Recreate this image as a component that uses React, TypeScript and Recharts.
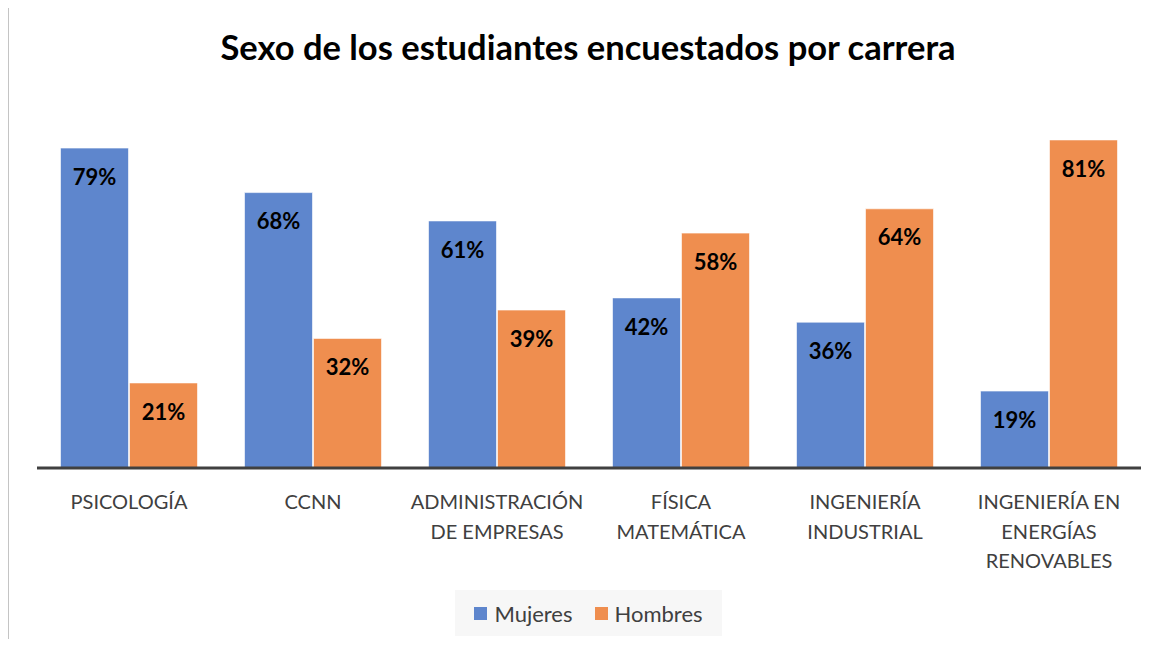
import React from "react";
import { BarChart, Bar, XAxis, YAxis, LabelList, Legend } from "recharts";

const categories = [
  "PSICOLOGÍA",
  "CCNN",
  "ADMINISTRACIÓN\nDE EMPRESAS",
  "FÍSICA\nMATEMÁTICA",
  "INGENIERÍA\nINDUSTRIAL",
  "INGENIERÍA EN\nENERGÍAS\nRENOVABLES",
];
const mujeres = [79, 68, 61, 42, 36, 19];
const hombres = [21, 32, 39, 58, 64, 81];
const seriesNames = ["Mujeres", "Hombres"];
const colors = ["#5E86CD", "#EF8E4F"];
const title = "Sexo de los estudiantes encuestados por carrera";

const data = categories.map((c, i) => ({ cat: c, m: mujeres[i], h: hombres[i] }));

const FONT = "Lato, 'Open Sans', sans-serif";

const Tick = (props: any) => {
  const { x, y, payload } = props;
  const lines = String(payload.value).split("\n");
  return (
    <g>
      {lines.map((l: string, i: number) => (
        <text
          key={i}
          x={x}
          y={y + 33 + i * 29.5}
          textAnchor="middle"
          fontSize={20}
          fill="#404040"
          fontFamily={FONT}
        >
          {l}
        </text>
      ))}
    </g>
  );
};

const LegendContent = () => (
  <div
    style={{
      position: "absolute",
      left: 455,
      top: 590,
      width: 267,
      height: 46,
      background: "#F7F7F7",
      display: "flex",
      alignItems: "center",
      justifyContent: "center",
      fontFamily: FONT,
      fontSize: 22,
      color: "#404040",
    }}
  >
    {seriesNames.map((n, i) => (
      <div key={n} style={{ display: "flex", alignItems: "center", marginLeft: i ? 22 : 0 }}>
        <div style={{ width: 13, height: 13, background: colors[i], marginRight: 7 }} />
        <span>{n}</span>
      </div>
    ))}
  </div>
);

export default function App() {
  return (
    <div style={{ position: "relative", width: 1165, height: 647, margin: -8, background: "#fff", overflow: "hidden" }}>
      <div
        style={{
          position: "absolute",
          left: 7,
          top: 4,
          width: 1200,
          height: 700,
          borderLeft: "2px solid #C4C4C4",
          borderTop: "1px solid #C4C4C4",
        }}
      />
      <div
        style={{
          position: "absolute",
          left: 0,
          top: 26,
          width: 1176,
          textAlign: "center",
          fontFamily: FONT,
          fontWeight: 700,
          fontSize: 34.5,
          color: "#000",
        }}
      >
        {title}
      </div>
      <div style={{ position: "absolute", left: 0, top: 0 }}>
        <BarChart
          width={1165}
          height={647}
          data={data}
          margin={{ top: 63, right: 24, left: 37, bottom: 0 }}
          barCategoryGap={23.5}
          barGap={1}
        >
          <YAxis hide domain={[0, 100]} />
          <XAxis
            dataKey="cat"
            height={179}
            interval={0}
            tickLine={false}
            axisLine={{ stroke: "#404040", strokeWidth: 3 }}
            tick={<Tick />}
          />
          <Legend content={<LegendContent />} wrapperStyle={{ left: 0, top: 0 }} />
          <Bar dataKey="m" name={seriesNames[0]} fill={colors[0]} stroke="#ffffff" strokeOpacity={0.6} strokeWidth={1} isAnimationActive={false}>
            <LabelList
              dataKey="m"
              position="insideTop"
              offset={21}
              formatter={(v: any) => `${v}%`}
              style={{ fontFamily: FONT, fontWeight: 700, fontSize: 22, fill: "#000" }}
            />
          </Bar>
          <Bar dataKey="h" name={seriesNames[1]} fill={colors[1]} stroke="#ffffff" strokeOpacity={0.6} strokeWidth={1} isAnimationActive={false}>
            <LabelList
              dataKey="h"
              position="insideTop"
              offset={21}
              formatter={(v: any) => `${v}%`}
              style={{ fontFamily: FONT, fontWeight: 700, fontSize: 22, fill: "#000" }}
            />
          </Bar>
        </BarChart>
      </div>
    </div>
  );
}
